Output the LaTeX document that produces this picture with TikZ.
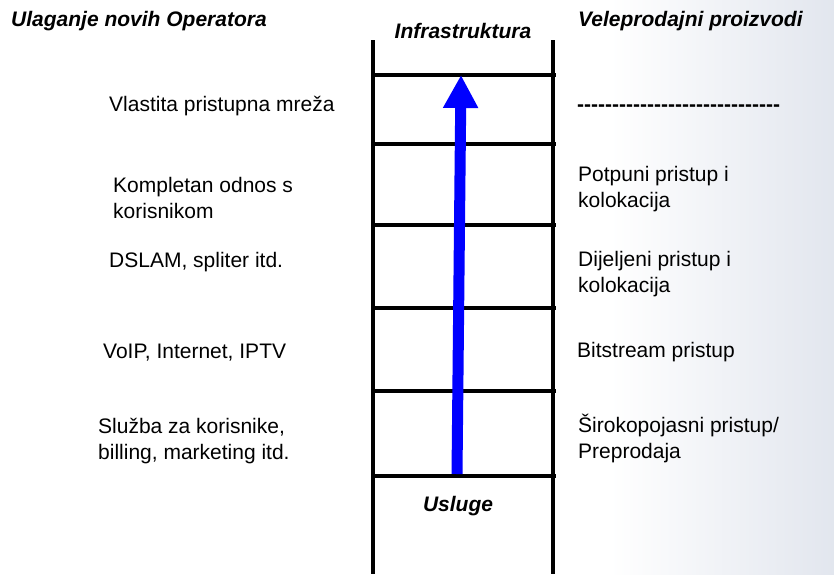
\documentclass[tikz,border=0pt]{standalone}
\usepackage{fontspec}
\setmainfont{Liberation Sans}
\usetikzlibrary{arrows.meta}
\definecolor{bgR}{RGB}{226,230,238}
\definecolor{arrowblue}{RGB}{0,0,255}
\tikzset{
  lbl/.style={anchor=base west, inner sep=0pt, align=left, font=\fontsize{21}{25.5}\selectfont},
  hdr/.style={anchor=base west, inner sep=0pt, font=\fontsize{21}{25.5}\selectfont\bfseries\itshape},
  rail/.style={line width=4pt, black},
  rung/.style={line width=4.5pt, black},
  uparrow/.style={line width=11pt, arrowblue, -{Triangle[width=33pt,length=33pt]}}
}
\begin{document}
\begin{tikzpicture}[x=1pt,y=-1pt]
\useasboundingbox (0,0) rectangle (834,574);
\shade[left color=white, right color=bgR] (610,0) rectangle (834,574);
% rails
\coordinate (LT) at (373,40);
\coordinate (LB) at (373,574);
\coordinate (RT) at (553,40);
\coordinate (RB) at (553,574);
\draw[rail] (LT) -- (LB);
\draw[rail] (RT) -- (RB);
% rungs
\foreach \n/\y in {a/75,b/144,c/225,d/308,e/391,f/476}{
  \coordinate (rl\n) at (371,\y);
  \coordinate (rr\n) at (556,\y);
  \draw[rung] (rl\n) -- (rr\n);
}
% arrow
\coordinate (arrS) at (457,474);
\coordinate (arrE) at (461,75);
\draw[uparrow] (arrS) -- (arrE);
% headers
\node[hdr] (h1) at (11,26) {Ulaganje novih Operatora};
\node[hdr] (h2) at (578,26) {Veleprodajni proizvodi};
\node[hdr, anchor=base] (infra) at (463,38) {Infrastruktura};
\node[hdr, anchor=base] (usl) at (458,511) {Usluge};
% left labels (base = last line)
\node[lbl] (l1) at (109,111) {Vlastita pristupna mreža};
\node[lbl] (l2) at (113,218) {Kompletan odnos s\\korisnikom};
\node[lbl] (l3) at (109,267) {DSLAM, spliter itd.};
\node[lbl] (l4) at (103,358) {VoIP, Internet, IPTV};
\node[lbl] (l5) at (98,459) {Služba za korisnike,\\billing, marketing itd.};
% right labels
\node[lbl, font=\fontsize{21}{25.5}\selectfont\bfseries] (r1) at (577,111) {{-}{-}{-}{-}{-}{-}{-}{-}{-}{-}{-}{-}{-}{-}{-}{-}{-}{-}{-}{-}{-}{-}{-}{-}{-}{-}{-}{-}{-}};
\node[lbl] (r2) at (578,207) {Potpuni pristup i\\kolokacija};
\node[lbl] (r3) at (578,292) {Dijeljeni pristup i\\kolokacija};
\node[lbl] (r4) at (577,357) {Bitstream pristup};
\node[lbl] (r5) at (578,458) {Širokopojasni pristup/\\Preprodaja};
\end{tikzpicture}
\end{document}
